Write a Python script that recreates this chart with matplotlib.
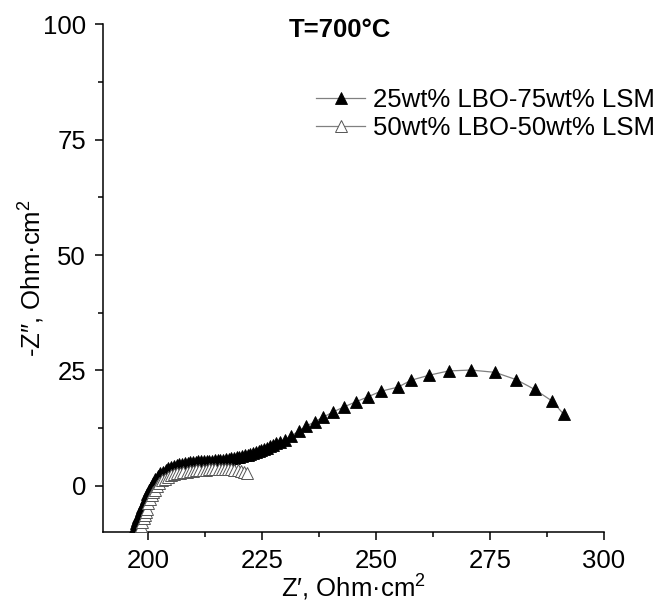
import matplotlib
matplotlib.use("Agg")
import matplotlib.pyplot as plt
from matplotlib.ticker import MultipleLocator

plt.rcParams['font.family'] = ['Liberation Sans', 'DejaVu Sans']
plt.rcParams['mathtext.default'] = 'regular'

# Nyquist data at 700 °C: Z' (Ohm·cm²) and -Z'' (Ohm·cm²)
lsm75_re = [197.0, 197.3, 197.5, 197.8, 198.1, 198.4, 198.7, 199.0, 199.4, 199.7,
            200.1, 200.5, 201.0, 201.5, 202.1, 202.6, 203.2, 203.8, 204.4, 205.0,
            205.6, 206.2, 206.8, 207.4, 208.0, 208.6, 209.2, 209.8, 210.4, 211.0,
            211.6, 212.2, 212.8, 213.4, 214.0, 214.6, 215.2, 215.8, 216.4, 217.0,
            217.6, 218.2, 218.8, 219.4, 220.0, 220.6, 221.2, 221.8, 222.4, 223.0,
            223.6, 224.2, 224.8, 225.4, 226.0, 226.7, 227.4, 228.1, 228.8, 229.9,
            231.4, 233.0, 234.6, 236.5, 238.4, 240.5, 242.9, 245.5, 248.2, 251.0,
            254.8, 257.7, 261.7, 265.9, 270.8, 276.1, 280.8, 284.8, 288.6, 291.2]
lsm75_im = [-8.9, -8.0, -7.4, -6.7, -6.0, -5.2, -4.5, -3.7, -2.7, -1.8,
            -0.9, -0.2, 0.6, 1.4, 2.1, 2.7, 3.1, 3.5, 3.8, 4.1,
            4.3, 4.5, 4.7, 4.8, 4.9, 5.0, 5.1, 5.1, 5.2, 5.3,
            5.3, 5.4, 5.4, 5.5, 5.5, 5.6, 5.6, 5.7, 5.7, 5.8,
            5.9, 6.0, 6.1, 6.2, 6.3, 6.4, 6.6, 6.8, 7.0, 7.2,
            7.4, 7.6, 7.8, 8.0, 8.3, 8.6, 8.9, 9.2, 9.5, 10.0,
            10.8, 11.9, 12.9, 13.9, 14.9, 16.0, 17.1, 18.2, 19.3, 20.5,
            21.4, 22.9, 24.0, 24.9, 25.1, 24.6, 23.0, 20.9, 18.4, 15.5]

lsm50_re = [198.1, 198.4, 198.7, 199.0, 199.2, 199.5, 199.7, 199.9, 200.3, 200.7,
            201.1, 201.4, 201.9, 202.4, 203.0, 203.6, 204.2, 204.9, 205.6, 206.3,
            207.0, 207.7, 208.4, 209.1, 209.8, 210.5, 211.2, 211.9, 212.6, 213.3,
            214.0, 214.7, 215.4, 216.1, 216.8, 217.5, 218.2, 218.9, 219.6, 220.3,
            221.0, 221.6]
lsm50_im = [-9.6, -8.7, -7.8, -7.0, -6.3, -5.6, -4.9, -3.8, -2.9, -2.0,
            -1.4, -0.8, -0.1, 0.6, 1.2, 1.6, 2.0, 2.3, 2.5, 2.7,
            2.9, 3.0, 3.1, 3.2, 3.3, 3.4, 3.4, 3.5, 3.5, 3.6,
            3.6, 3.7, 3.7, 3.7, 3.7, 3.7, 3.6, 3.5, 3.4, 3.2,
            3.0, 2.7]

labels = ["25wt% LBO-75wt% LSM", "50wt% LBO-50wt% LSM"]
title_text = "T=700\u00b0C"
x_ticks = [200, 225, 250, 275, 300]
y_ticks = [0, 25, 50, 75, 100]

fig = plt.figure(figsize=(6.55, 6.04), dpi=100)
ax = fig.add_axes([0.157, 0.119, 0.765, 0.841])

ax.plot(lsm75_re, lsm75_im, color='#808080', lw=0.9, marker='^', ms=8,
        mfc='black', mec='black', mew=0.6, label=labels[0], zorder=3)
ax.plot(lsm50_re, lsm50_im, color='#808080', lw=0.9, marker='^', ms=8,
        mfc='white', mec='#555555', mew=0.7, label=labels[1], zorder=4)

ax.set_xlim(190, 300)
ax.set_ylim(-10, 100)
ax.set_xticks(x_ticks)
ax.set_yticks(y_ticks)
ax.xaxis.set_minor_locator(MultipleLocator(12.5))
ax.yaxis.set_minor_locator(MultipleLocator(12.5))

for side in ('top', 'right'):
    ax.spines[side].set_visible(False)
for side in ('left', 'bottom'):
    ax.spines[side].set_linewidth(1.1)

ax.tick_params(which='major', direction='out', length=6, width=1.1,
               labelsize=18.5, pad=6)
ax.tick_params(which='minor', direction='out', length=3.5, width=1.1)

ax.set_xlabel("Z\u2032, Ohm\u00b7cm$^2$", fontsize=18.5)
ax.set_ylabel("-Z\u2033, Ohm\u00b7cm$^2$", fontsize=18.5)
ax.xaxis.set_label_coords(0.5, -0.080)
ax.yaxis.set_label_coords(-0.112, 0.5)

fig.text(340 / 655, 1 - 30 / 604, title_text, fontsize=18.5, fontweight='bold',
         ha='center', va='center')

leg = ax.legend(loc='upper right', bbox_to_anchor=(1.0, 1 - 88 / 604),
                bbox_transform=fig.transFigure, frameon=False, fontsize=18.5,
                handlelength=1.9, handletextpad=0.3, labelspacing=0.15,
                borderaxespad=0.0, borderpad=0.0)

fig.savefig("out.png", dpi=100)
